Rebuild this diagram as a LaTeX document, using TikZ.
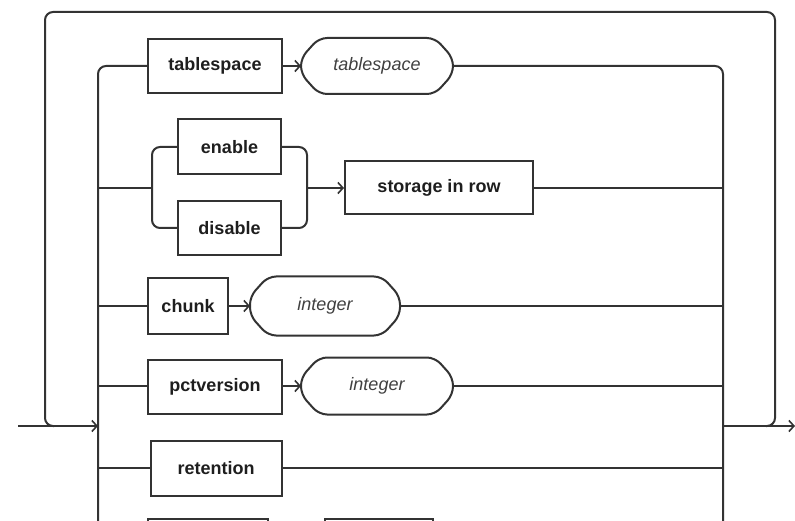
\documentclass[tikz,border=0pt]{standalone}
\usepackage{fontspec}
\setmainfont{Liberation Sans}
\usetikzlibrary{arrows.meta}
\definecolor{ink}{HTML}{333333}
\definecolor{txt}{HTML}{1E1E1E}

% octagonal outline with softened corners around a terminal node
\newcommand\termoutline[1]{%
  \draw[ink,rounded corners=8pt]
    ([xshift=18pt]#1.north west) -- ([xshift=-18pt]#1.north east)
    -- ([yshift=-20pt]#1.north east) -- ([yshift=20pt]#1.south east)
    -- ([xshift=-18pt]#1.south east) -- ([xshift=18pt]#1.south west)
    -- ([yshift=20pt]#1.south west) -- ([yshift=-20pt]#1.north west) -- cycle;}

\begin{document}
\begin{tikzpicture}[x=1pt,y=-1pt,line width=2pt,
  kw/.style={draw=ink,rectangle,inner sep=0pt,text=txt,
    font=\fontsize{18}{20}\selectfont\bfseries},
  term/.style={rectangle,inner sep=0pt,text=txt!85,
    font=\fontsize{18}{20}\selectfont\itshape},
  link/.style={draw=ink,rounded corners=8pt},
  tip/.style={draw=ink,-{Straight Barb[length=5pt,width=11pt,line width=1.6pt]}}]

\useasboundingbox (0,0) rectangle (795,521);
\clip (0,0) rectangle (795,521);

% rails and junction points
\coordinate (in) at (18,426);
\coordinate (out) at (795,426);
\coordinate (lj) at (98,426);
\coordinate (rj) at (723,426);
\coordinate (lbot) at (98,530);
\coordinate (rbot) at (723,530);

% option boxes
\node[kw,minimum width=134pt,minimum height=54pt] (tsk) at (215,66) {tablespace};
\node[term,minimum width=150pt,minimum height=54pt] (tst) at (377,66) {tablespace};
\node[kw,minimum width=103pt,minimum height=55pt] (en) at (229.5,147) {enable};
\node[kw,minimum width=103pt,minimum height=54pt] (dis) at (229.5,228) {disable};
\node[kw,minimum width=188pt,minimum height=53pt] (sir) at (439,188) {storage in row};
\node[kw,minimum width=80pt,minimum height=56pt] (ch) at (188,306) {chunk};
\node[term,minimum width=148pt,minimum height=57pt] (cht) at (325,306) {integer};
\node[kw,minimum width=134pt,minimum height=54pt] (pv) at (215,387) {pctversion};
\node[term,minimum width=150pt,minimum height=55pt] (pvt) at (377,386) {integer};
\node[kw,minimum width=131pt,minimum height=55pt] (ret) at (216,468) {retention};
\node[kw,minimum width=120pt,minimum height=54pt] (nxk) at (208,546) {};
\node[kw,minimum width=108pt,minimum height=54pt] (nxt) at (379,546) {};
\termoutline{tst}
\termoutline{cht}
\termoutline{pvt}

% left and right rails
\draw[link] (tsk.west) -| (lbot);
\draw[link] (tst.east) -| (rbot);
\draw[tip] (tsk.east) -- (tst.west);

% enable / disable choice
\coordinate (cl) at (152,188);
\coordinate (cr) at (307,188);
\draw[link] (98,188) -- (cl);
\draw[link] (en.west) -| (cl) |- (dis.west);
\draw[link] (en.east) -| (cr) |- (dis.east);
\draw[tip] (cr) -- (sir.west);
\draw[link] (sir.east) -- (723,188);

% chunk
\draw[link] (98,306) -- (ch.west);
\draw[tip] (ch.east) -- (cht.west);
\draw[link] (cht.east) -- (723,306);

% pctversion
\draw[link] (98,386) -- (pv.west |- pvt.west);
\draw[tip] (pv.east |- pvt.west) -- (pvt.west);
\draw[link] (pvt.east) -- (723,386);

% retention
\draw[link] (98,468) -- (ret.west);
\draw[link] (ret.east) -- (723,468);

% entry, exit and repeat loop
\draw[tip] (in) -- (lj);
\draw[tip] (rj) -- (out);
\draw[link] (766,426) -| (775,12) -| (45,426) -- (54,426);
\end{tikzpicture}
\end{document}
